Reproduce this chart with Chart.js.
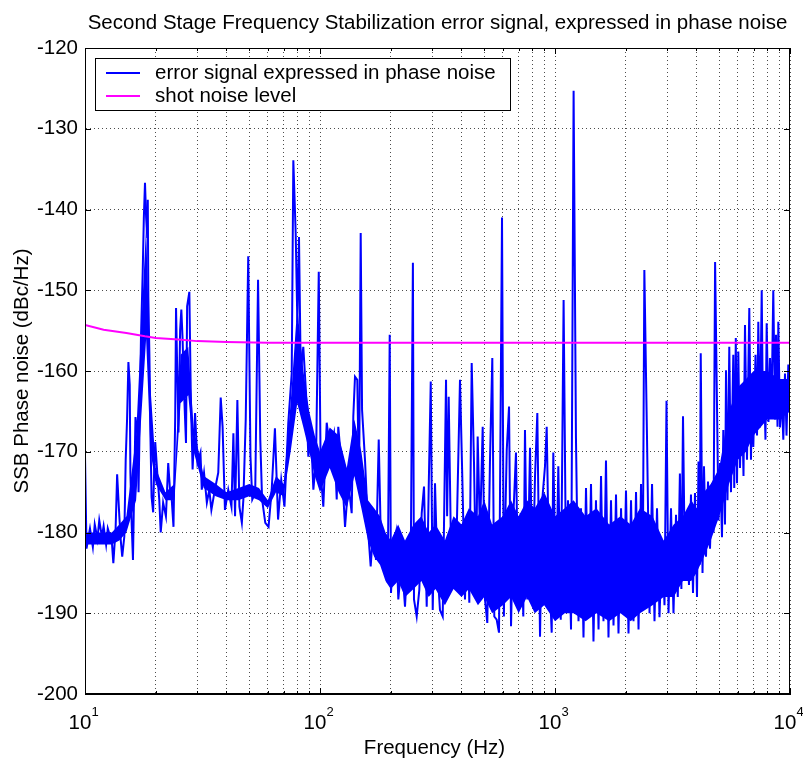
<!DOCTYPE html>
<html>
<head>
<meta charset="utf-8">
<title>Second Stage Frequency Stabilization error signal</title>
<script src="https://cdn.jsdelivr.net/npm/chart.js@4.4.1/dist/chart.umd.min.js"></script>
<style>
  html, body { margin: 0; padding: 0; background: #fff; }
  #wrap { width: 803px; height: 771px; }
</style>
</head>
<body>
<div id="wrap"><canvas id="phaseChart" width="803" height="771"></canvas></div>
<script>
// ---- data ----
const chartTitle = 'Second Stage Frequency Stabilization error signal, expressed in phase noise';
const xAxisTitle = 'Frequency (Hz)';
const yAxisTitle = 'SSB Phase noise (dBc/Hz)';
const seriesNames = ['error signal expressed in phase noise', 'shot noise level'];

// x tick labels are 10^1 .. 10^4
const xTickValues = [10, 100, 1000, 10000];
const xTickExponents = ['1', '2', '3', '4'];
const xGridHz = [10, 20, 30, 40, 50, 60, 70, 80, 90,
  100, 200, 300, 400, 500, 600, 700, 800, 900,
  1000, 2000, 3000, 4000, 5000, 6000, 7000, 8000, 9000, 10000];
const yTicks = [-120, -130, -140, -150, -160, -170, -180, -190, -200];

// error signal (Hz / dBc/Hz)
const freqHz = [
  10, 10.15, 10.5, 10.8, 11, 11.3, 11.5, 11.8, 12, 12.3, 12.5, 12.8, 13, 13.2, 13.5, 13.7,
  14, 14.2, 14.4, 14.7, 14.9, 15.1, 15.3, 15.5, 15.6, 15.8, 16, 16.2, 16.4, 16.7, 16.9, 17.1,
  17.3, 17.6, 17.8, 18, 18.2, 18.4, 18.5, 18.6, 18.8, 19, 19.2, 19.5, 19.7, 19.9, 20.3, 20.7,
  21, 21.5, 22.1, 22.6, 23, 23.4, 23.8, 24.2, 24.4, 24.7, 25, 25.4, 25.7, 26, 26.4, 26.9,
  27.2, 27.8, 28.2, 28.7, 29.4, 30.1, 31, 31.4, 32.1, 33, 33.8, 34.5,
  35.7, 36.9, 37.8, 38.5, 39.4, 40.7, 42, 42.8, 43.5, 44.5, 45.4, 46.5, 47.2, 48.3, 49.5,
  50.6, 51.5, 53, 54.5, 55.7, 56.7, 58.5, 60.4, 62.3, 64.3, 66.3, 68.4, 70.6, 73.3, 75.8,
  77, 78.8, 80.1, 81.4, 82.8, 84.9, 87.2, 89.2, 91.6, 93.7, 96.2, 98.8, 100.7, 103.3, 106.8,
  110.3, 114.7, 117.8, 119.6, 123.7, 127.8, 132, 136.4, 138.6, 140.9, 144.1, 146.6, 149, 151,
  155.4, 160.5, 164.3, 168.6, 173.1, 177.8, 181.3, 186, 190.4, 194.2, 198, 200.5, 205.1,
  210.6, 215.4, 222.7, 230, 237.6, 243.2, 248.5, 251.2, 257.9, 264.6, 270.9, 277.1, 284.5,
  290.2, 296, 301.8, 308.6, 315.6, 324, 332.8, 343.8, 347.5, 352.9, 360.5, 369.2, 381.6,
  394.2, 403.2, 414, 423.5, 431.9, 442.1, 452.2, 461.2, 468.8, 479.6, 492.4, 503.6, 515.1,
  528.9, 541, 551.7, 564.8, 577.7, 595, 606, 612.7, 623.2, 637.4, 650, 664.8, 682.3, 698,
  714.5, 733, 745.2, 762.2, 782.8, 803.5, 822.1, 841, 863.5, 883.1, 906.6, 921.9, 943,
  968.2, 983.5, 1010, 1033, 1058, 1088, 1114, 1136, 1170, 1200,
  1228, 1259, 1290, 1322, 1355, 1389, 1423, 1458, 1494, 1532, 1570, 1608, 1648, 1689, 1731,
  1774, 1818, 1863, 1910, 1957, 2005, 2055, 2106, 2158, 2212, 2267, 2323, 2360, 2400,
  2464, 2525, 2588, 2651, 2717, 2784, 2853, 2924, 2982, 3041, 3116, 3193, 3273, 3330, 3400,
  3450, 3505, 3575, 3645, 3717, 3790, 3866, 3942, 4020, 4080, 4130, 4170, 4244, 4305, 4391,
  4478, 4566, 4657, 4726, 4800, 4877, 4963, 5037, 5136, 5202, 5289, 5342, 5420, 5516, 5609,
  5737, 5790, 5880, 5950, 6026, 6127, 6231, 6341, 6434, 6561, 6711, 6823, 6900, 6980, 7133,
  7239, 7330, 7452, 7579, 7674, 7749, 7863, 7958, 8098, 8219, 8341, 8489, 8635, 8719, 8848,
  8918, 9067, 9220, 9365, 9522, 9663, 9836, 10000
];
const errorDb = [
  -170.5, -182, -179.5, -181.8, -179, -180.8, -178.5, -180.5, -179.2, -181.5, -179.5, -180.5, -181, -183.8, -179.5, -172.8,
  -178, -181, -183, -180.5, -171, -166, -158.9, -161.7, -172.5, -179, -183.4, -174, -165.7, -167.7, -175, -165.7,
  -156, -147.8, -141, -136.7, -141, -143.4, -138.8, -150.8, -158.2, -168.5, -175.6, -177.5, -172, -168.8, -172.6, -175.9,
  -180, -176.3, -178, -171.4, -174.7, -176, -179.3, -165.7, -152.2, -160.2, -167.6, -154.9, -152.4, -155.8, -162.7, -168.9,
  -152, -150.2, -163.2, -172.2, -165.2, -171.4, -170.1, -174.7, -172.6, -176.3, -174.7, -177.2,
  -174.7, -172.6, -163.3, -166.9, -177.2, -174.7, -176.8, -167.7, -178, -163.6, -176.8, -178.8, -175.9, -166, -145.8,
  -170.6, -175.9, -175.1, -148.7, -168.5, -175.9, -178.8, -179.3, -174.7, -167.1, -178.4, -173.5, -176.8, -166.4, -160.3,
  -133.9, -142.9, -154, -143.4, -160.2, -157, -162.7, -170.6, -167.7, -174.7, -171, -147.7, -172.6, -176.8, -166.4,
  -169.8, -167.7, -175.9, -166.9, -171.8, -179.3, -173.9, -177.6, -165.6, -160.7, -161.1, -175.1, -142.9, -164.8,
  -171, -180.1, -184.2, -179.3, -183.4, -168.5, -180.1, -182.1, -184.2, -186.2, -155.5, -187.5, -182.1,
  -180.1, -188.3, -183.4, -189.2, -181.3, -184.2, -146.6, -188.3, -190.4, -187.1, -177.6, -174.3, -189.2,
  -174.3, -161.3, -189.6, -173.9, -184.2, -189.6, -190.4, -161.1, -178, -163.2, -181, -185.5, -180.1,
  -161.1, -173.1, -188.3, -178, -188.7, -159, -171.4, -186.2, -168.1, -180.1, -166.9, -188.3, -191.2,
  -171, -158.4, -190.4, -190.8, -192.4, -141, -190.4, -180.1, -169.8, -164.4, -191.6, -178, -170.1, -189.2,
  -177.6, -190.4, -167.3, -188.3, -169.5, -186.2, -173.1, -165.2, -192.9, -175.9, -171.8, -166.9, -184.2,
  -192.4, -170.1, -188.3, -171.8, -190.8, -151.2, -185, -176, -192, -125.3,
  -168.3, -191, -177, -193, -174.5, -190.5, -174, -193.5, -176, -192, -173, -191, -171.1, -193, -176,
  -191.5, -175.3, -192.5, -177, -190, -174.8, -192.5, -176, -191, -175, -192, -174, -189, -147.5,
  -168.5, -190, -174, -191, -177, -190.5, -181, -189, -163.7, -190, -177, -190, -177.8, -188, -172.7,
  -187, -165.6, -186, -179.3, -186.5, -175.3, -187.5, -175.1, -188, -171.2, -184, -157.8, -185, -171.8, -183,
  -173.7, -182, -173.9, -180, -146.5, -161.7, -178.5, -171.4, -180.6, -167.3, -179, -159.9, -176, -157, -175,
  -158, -174.5, -155.9, -173.9, -157.6, -172, -162.3, -173, -154.3, -171, -152.2, -171, -161.5, -169.4, -158,
  -168, -153.9, -167, -150, -166, -161.1, -168.5, -154.1, -166.3, -158.4, -165, -150, -166, -155.5, -166.9,
  -153.9, -167, -163.2, -168.5, -160.3, -168, -159.2, -165
];

// solid core of the dense trace (upper / lower edge of the filled-looking part)
const bandFreqHz = [10, 13, 14, 15, 16.5, 18.2, 19, 20, 22, 24, 25.5, 27.5, 29, 32, 36, 40, 45, 50,
  55, 60, 65, 70, 75, 80, 85, 90, 95, 100, 110, 120, 130, 140,
  150, 160, 170, 180, 190, 200, 215, 230, 250, 270, 290, 310, 340, 370, 400, 430, 470, 500,
  540, 600, 650, 700, 760, 820, 900, 1000, 1100, 1200, 1350, 1500, 1700, 1900, 2100, 2300,
  2600, 2900, 3200, 3500, 3800, 4000, 4300, 4600, 5000, 5500, 6000, 6500, 7000, 8000, 9000, 10000];
const bandHighDb = [-180, -180, -179, -178, -168, -142, -162, -172, -175, -174, -158, -157, -167, -173, -174, -175, -174.5, -174,
  -174.5, -176, -173, -174, -164, -152, -160, -165, -168, -170, -167, -168, -172, -166,
  -170, -176, -177, -178, -180, -181, -179, -181, -179, -178, -180, -179, -181, -178, -179, -177, -178, -176,
  -179, -178, -176, -178, -176, -177, -175, -178, -177, -176, -178, -177, -179, -178, -179, -177,
  -178, -181, -179, -178, -176, -177, -175, -174, -172, -165, -162, -161, -160, -160, -161, -161];
const bandLowDb = [-181.5, -181.5, -181, -180, -176, -156, -170, -174, -176, -176, -164, -163, -170, -174.5, -175.5, -176, -176, -175.5,
  -176, -177, -175, -175.5, -170, -164, -167, -170, -173, -175, -172, -175, -177, -173,
  -177, -181, -183, -184, -186, -187, -186, -188, -187, -186, -188, -187, -189, -187, -188, -187, -189, -188,
  -190, -189, -188, -190, -188, -190, -189, -191, -190, -190, -191, -190, -191, -190, -191, -190,
  -189, -188, -188, -186, -186, -185, -183, -181, -178, -174, -171, -170, -168, -166, -166, -165];

// shot noise level
const shotFreqHz = [10, 12, 15, 18, 20, 25, 30, 40, 60, 100, 1000, 10000];
const shotDb = [-154.3, -154.9, -155.3, -155.7, -155.9, -156.1, -156.3, -156.4, -156.5, -156.5, -156.5, -156.5];

// ---- drawing ----
const FONT = '"Liberation Sans", Arial, Helvetica, sans-serif';
const BLUE = '#0000ff';
const MAGENTA = '#ff00ff';

const errorPoints = freqHz.map((f, i) => ({ x: f, y: errorDb[i] }));
const shotPoints = shotFreqHz.map((f, i) => ({ x: f, y: shotDb[i] }));
const bandHighPoints = bandFreqHz.map((f, i) => ({ x: f, y: bandHighDb[i] }));
const bandLowPoints = bandFreqHz.map((f, i) => ({ x: f, y: bandLowDb[i] }));

// MATLAB-ish frame: box, inward ticks, legend, titles, 10^n labels
const matlabFrame = {
    id: 'matlabFrame',
    afterDatasetsDraw(chart) {
        const ctx = chart.ctx;
        const ca = chart.chartArea;
        const xs = chart.scales.x;
        const ys = chart.scales.y;

        ctx.save();
        ctx.strokeStyle = '#000';
        ctx.lineWidth = 1;
        ctx.strokeRect(ca.left + 0.5, ca.top + 0.5, ca.right - ca.left - 1, ca.bottom - ca.top - 1);

        ctx.beginPath();
        yTicks.forEach(v => {
            const py = Math.round(ys.getPixelForValue(v)) + 0.5;
            ctx.moveTo(ca.left, py); ctx.lineTo(ca.left + 6, py);
            ctx.moveTo(ca.right, py); ctx.lineTo(ca.right - 6, py);
        });
        xGridHz.forEach(v => {
            const px = Math.round(xs.getPixelForValue(v)) + 0.5;
            const len = xTickValues.includes(v) ? 6 : 3;
            ctx.moveTo(px, ca.bottom); ctx.lineTo(px, ca.bottom - len);
            ctx.moveTo(px, ca.top); ctx.lineTo(px, ca.top + len);
        });
        ctx.stroke();

        // legend box
        const lx = ca.left + 10, ly = ca.top + 10, lw = 415, lh = 52;
        ctx.fillStyle = '#fff';
        ctx.fillRect(lx, ly, lw, lh);
        ctx.strokeRect(lx + 0.5, ly + 0.5, lw, lh);
        const colors = [BLUE, MAGENTA];
        ctx.font = '20.5px ' + FONT;
        ctx.textBaseline = 'middle';
        ctx.textAlign = 'left';
        seriesNames.forEach((name, i) => {
            const rowY = ly + 15 + i * 23;
            ctx.strokeStyle = colors[i];
            ctx.lineWidth = 2;
            ctx.beginPath();
            ctx.moveTo(lx + 11, rowY); ctx.lineTo(lx + 45, rowY);
            ctx.stroke();
            ctx.fillStyle = '#000';
            ctx.fillText(name, lx + 60, rowY);
        });
        ctx.restore();
    },
    afterDraw(chart) {
        const ctx = chart.ctx;
        const ca = chart.chartArea;
        const xs = chart.scales.x;
        const midX = (ca.left + ca.right) / 2;

        ctx.save();
        ctx.fillStyle = '#000';
        ctx.font = '20.5px ' + FONT;
        ctx.textAlign = 'center';
        ctx.textBaseline = 'middle';
        ctx.fillText(chartTitle, midX, 23);
        ctx.fillText(xAxisTitle, midX - 3, 748);

        ctx.save();
        ctx.translate(22, (ca.top + ca.bottom) / 2);
        ctx.rotate(-Math.PI / 2);
        ctx.fillText(yAxisTitle, 0, 0);
        ctx.restore();

        // 10^n tick labels: "10" centred just left of the tick, exponent raised after it
        ctx.textBaseline = 'alphabetic';
        xTickValues.forEach((v, i) => {
            const px = xs.getPixelForValue(v);
            ctx.font = '20.5px ' + FONT;
            const baseW = ctx.measureText('10').width;
            const start = px - baseW / 2 - 5;
            ctx.textAlign = 'left';
            ctx.fillText('10', start, 729);
            ctx.font = '13px ' + FONT;
            ctx.fillText(xTickExponents[i], start + baseW, 716);
        });
        ctx.restore();
    }
};

const gridStyle = { color: 'rgba(0,0,0,0.7)', lineWidth: 1, drawTicks: false };
const borderStyle = { display: true, color: '#000', width: 1, dash: [1, 3] };

new Chart(document.getElementById('phaseChart'), {
    type: 'line',
    data: {
        datasets: [
            {
                label: seriesNames[0],
                data: errorPoints,
                borderColor: BLUE,
                borderWidth: 2,
                pointRadius: 0,
                tension: 0,
                fill: false,
                order: 1
            },
            {
                label: seriesNames[1],
                data: shotPoints,
                borderColor: MAGENTA,
                borderWidth: 2,
                pointRadius: 0,
                tension: 0,
                fill: false,
                order: 0
            },
            {
                label: 'core-high',
                data: bandHighPoints,
                borderColor: BLUE,
                borderWidth: 0,
                backgroundColor: BLUE,
                pointRadius: 0,
                tension: 0,
                fill: '+1',
                order: 2
            },
            {
                label: 'core-low',
                data: bandLowPoints,
                borderColor: BLUE,
                borderWidth: 0,
                pointRadius: 0,
                tension: 0,
                fill: false,
                order: 3
            }
        ]
    },
    options: {
        responsive: false,
        animation: false,
        devicePixelRatio: 1,
        layout: { padding: { top: 48, right: 13, left: 0, bottom: 0 } },
        plugins: {
            legend: { display: false },
            tooltip: { enabled: false },
            title: { display: false }
        },
        scales: {
            x: {
                type: 'logarithmic',
                min: 10,
                max: 10000,
                afterBuildTicks: function(scale) {
                    scale.ticks = xGridHz.map(v => ({ value: v }));
                },
                afterFit: function(scale) { scale.height = 77; },
                ticks: { display: false },
                grid: gridStyle,
                border: borderStyle
            },
            y: {
                min: -200,
                max: -120,
                afterBuildTicks: function(scale) {
                    scale.ticks = yTicks.map(v => ({ value: v }));
                },
                afterFit: function(scale) { scale.width = 85; },
                ticks: {
                    color: '#000',
                    padding: 7,
                    font: { family: FONT, size: 20.5 }
                },
                grid: gridStyle,
                border: borderStyle
            }
        }
    },
    plugins: [matlabFrame]
});
</script>
</body>
</html>
